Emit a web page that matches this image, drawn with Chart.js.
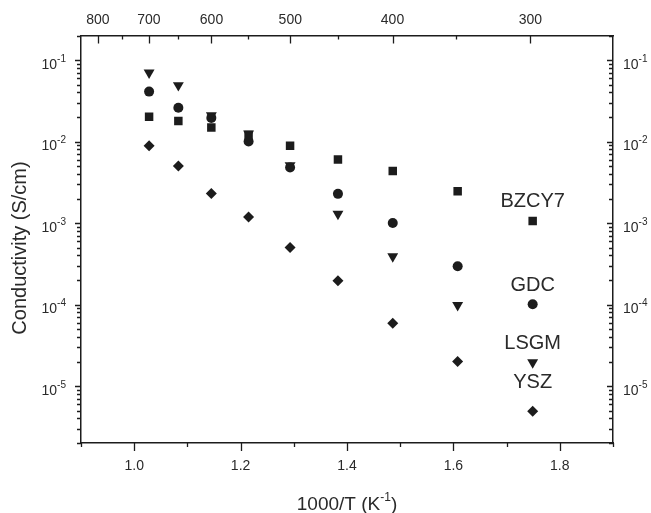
<!DOCTYPE html>
<html>
<head>
<meta charset="utf-8">
<script src="https://cdn.jsdelivr.net/npm/chart.js@4/dist/chart.umd.min.js"></script>
<style>
  body { margin: 0; background: #fff; }
  canvas { display: block; }
</style>
</head>
<body>
<canvas id="chart" width="651" height="513"></canvas>
<script>
// Data (1000/T in K^-1, conductivity in S/cm).
var invT = [1.028, 1.083, 1.145, 1.215, 1.293, 1.383, 1.486, 1.608, 1.749];
var bzcy7 = [0.0202, 0.0179, 0.0149, 0.0120, 0.0089, 0.0060, 0.00435, 0.00246, 0.00106];
var gdc = [0.041, 0.026, 0.0195, 0.0100, 0.0048, 0.00228, 0.00100, 0.000295, 0.000101];
var lsgm = [0.070, 0.049, 0.0209, 0.0125, 0.0051, 0.00129, 0.00039, 0.000098, 0.0000195];
var ysz = [0.0089, 0.0050, 0.0023, 0.00119, 0.00050, 0.000196, 0.000059, 0.0000200, 0.0000049];
var seriesNames = ['BZCY7', 'GDC', 'LSGM', 'YSZ'];

// Axis ticks.
var bottomTicks = [1.0, 1.2, 1.4, 1.6, 1.8];
var topTicksC = [800, 700, 600, 500, 400, 300];
var topMinorC = [750, 650, 550, 450, 350];
var yTicks = [1e-5, 1e-4, 1e-3, 1e-2, 1e-1];

var FONT = '"Liberation Sans", Arial, sans-serif';
var INK = '#1c1c1c';
var TEXT = '#2a2a2a';

function points(ys) {
    return invT.map(function(x, i) {
        return {x: x, y: ys[i]};
    });
}

function cToInvT(c) {
    return 1000 / (c + 273.15);
}

// Draw ticks, superscript labels, titles and series names.
var decor = {
    id: 'decor',
    afterDraw: function(chart) {
        var ctx = chart.ctx;
        var a = chart.chartArea;
        var sx = chart.scales.x;
        var sy = chart.scales.y;

        ctx.save();
        ctx.strokeStyle = INK;
        ctx.lineWidth = 1.3;
        ctx.beginPath();

        // bottom axis, outward ticks every 0.1
        for (var k = 9; k <= 19; k++) {
            var v = k / 10;
            var px = Math.round(sx.getPixelForValue(v)) + 0.5;
            var major = k % 2 === 0;
            ctx.moveTo(px, a.bottom);
            ctx.lineTo(px, a.bottom + (major ? 8 : 4));
        }

        // top axis (temperature, deg C), inward ticks
        topTicksC.concat(topMinorC).forEach(function(c) {
            var px = Math.round(sx.getPixelForValue(cToInvT(c))) + 0.5;
            var major = topTicksC.indexOf(c) >= 0;
            ctx.moveTo(px, a.top);
            ctx.lineTo(px, a.top + (major ? 8 : 4));
        });

        // y axes: left outward, right inward
        for (var e = -6; e <= -1; e++) {
            for (var m = 1; m <= 9; m++) {
                var yv = m * Math.pow(10, e);
                if (yv < sy.min * 0.999 || yv > sy.max * 1.001) {
                    continue;
                }
                var py = Math.round(sy.getPixelForValue(yv)) + 0.5;
                var len = m === 1 ? 6 : 4;
                ctx.moveTo(a.left, py);
                ctx.lineTo(a.left - len, py);
                ctx.moveTo(a.right, py);
                ctx.lineTo(a.right - len, py);
            }
        }
        ctx.stroke();

        ctx.fillStyle = TEXT;

        // bottom tick labels
        ctx.font = '14px ' + FONT;
        ctx.textAlign = 'center';
        ctx.textBaseline = 'alphabetic';
        bottomTicks.forEach(function(v) {
            ctx.fillText(v.toFixed(1), sx.getPixelForValue(v), a.bottom + 27);
        });

        // top tick labels
        topTicksC.forEach(function(c) {
            ctx.fillText(String(c), sx.getPixelForValue(cToInvT(c)), 24);
        });

        // y tick labels 10^n on both sides
        yTicks.forEach(function(v) {
            var py = sy.getPixelForValue(v);
            var sup = String(Math.round(Math.log10(v)));
            ctx.font = '10px ' + FONT;
            var supW = ctx.measureText(sup).width;
            ctx.font = '14px ' + FONT;
            var baseW = ctx.measureText('10').width;
            ctx.textAlign = 'left';

            var lx = a.left - 15 - supW - baseW;
            ctx.fillText('10', lx, py + 8.5);
            ctx.font = '10px ' + FONT;
            ctx.fillText(sup, lx + baseW, py + 1.5);

            var rx = a.right + 10;
            ctx.font = '14px ' + FONT;
            ctx.fillText('10', rx, py + 8.5);
            ctx.font = '10px ' + FONT;
            ctx.fillText(sup, rx + baseW, py + 1.5);
        });

        // x title with superscript
        ctx.font = '19px ' + FONT;
        var t1 = '1000/T (K';
        var t3 = ')';
        var w1 = ctx.measureText(t1).width;
        var w3 = ctx.measureText(t3).width;
        ctx.font = '12px ' + FONT;
        var t2 = '-1';
        var w2 = ctx.measureText(t2).width;
        var tx = (a.left + a.right) / 2 - (w1 + w2 + w3) / 2;
        ctx.textAlign = 'left';
        ctx.font = '19px ' + FONT;
        ctx.fillText(t1, tx, 510);
        ctx.fillText(t3, tx + w1 + w2, 510);
        ctx.font = '12px ' + FONT;
        ctx.fillText(t2, tx + w1, 501);

        // y title
        ctx.save();
        ctx.translate(20, 248);
        ctx.rotate(-Math.PI / 2);
        ctx.font = '20px ' + FONT;
        ctx.textAlign = 'center';
        ctx.textBaseline = 'middle';
        ctx.fillText('Conductivity (S/cm)', 0, 0);
        ctx.restore();

        // series names above the last point of each series
        var lift = [19, 19, 19, 29];
        ctx.font = '20px ' + FONT;
        ctx.textAlign = 'center';
        ctx.textBaseline = 'middle';
        chart.data.datasets.forEach(function(ds, i) {
            var last = ds.data[ds.data.length - 1];
            ctx.fillText(seriesNames[i], sx.getPixelForValue(last.x), sy.getPixelForValue(last.y) - lift[i]);
        });

        ctx.restore();
    }
};

function plainAxis(extra) {
    var base = {
        grid: {display: false, drawTicks: false},
        border: {display: true, color: INK, width: 1.5},
        ticks: {display: false}
    };
    return Object.assign(base, extra);
}

new Chart(document.getElementById('chart'), {
    type: 'scatter',
    data: {
        datasets: [
            {label: seriesNames[0], data: points(bzcy7), pointStyle: 'rect', pointRadius: 6,
                backgroundColor: INK, borderWidth: 0},
            {label: seriesNames[1], data: points(gdc), pointStyle: 'circle', pointRadius: 5,
                backgroundColor: INK, borderWidth: 0},
            {label: seriesNames[2], data: points(lsgm), pointStyle: 'triangle', pointRotation: 180,
                pointRadius: 6.3, backgroundColor: INK, borderWidth: 0},
            {label: seriesNames[3], data: points(ysz), pointStyle: 'rectRot', pointRadius: 5.5,
                backgroundColor: INK, borderWidth: 0}
        ]
    },
    options: {
        responsive: false,
        animation: false,
        layout: {padding: 0},
        plugins: {
            legend: {display: false},
            tooltip: {enabled: false}
        },
        scales: {
            x: plainAxis({
                type: 'linear', position: 'bottom', min: 0.9, max: 1.9,
                afterFit: function(s) { s.height = 70; }
            }),
            xTop: plainAxis({
                type: 'linear', position: 'top', min: 0.9, max: 1.9,
                afterFit: function(s) { s.height = 35.5; }
            }),
            y: plainAxis({
                type: 'logarithmic', position: 'left', min: 2e-6, max: 0.2,
                afterFit: function(s) { s.width = 81; }
            }),
            yRight: plainAxis({
                type: 'logarithmic', position: 'right', min: 2e-6, max: 0.2,
                afterFit: function(s) { s.width = 38; }
            })
        }
    },
    plugins: [decor]
});
</script>
</body>
</html>
